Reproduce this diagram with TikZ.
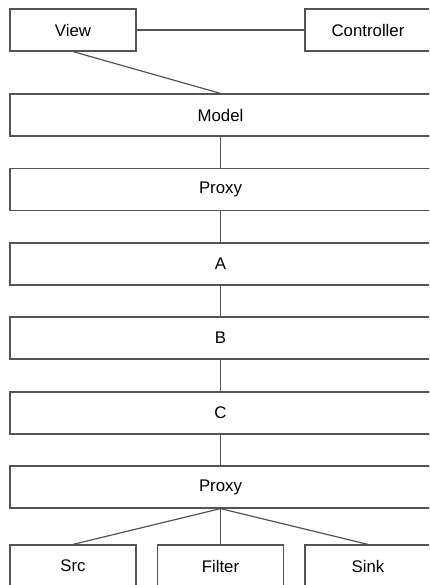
\documentclass[tikz,border=0pt]{standalone}
\usepackage{fontspec}
\setmainfont{Liberation Sans}
\usepackage{tikz}
\definecolor{edge1}{rgb}{0.33,0.33,0.33}

\begin{document}
\begin{tikzpicture}[x=0.75pt,y=-0.75pt,
  box/.style={draw=edge1, line width=0.9pt, fill=white, minimum height=31.5pt,
    inner sep=0pt, font=\fontsize{12.6}{15}\selectfont},
  small/.style={box, minimum width=94.5pt},
  wide/.style={box, minimum width=315.75pt},
  link/.style={draw=edge1, line width=0.9pt}]
\useasboundingbox (0,0) rectangle (429,585);
\clip (0,0) rectangle (429,585);
% top row
\node[small] (view) at (73,30) {View};
\node[small] (ctrl) at (368,30) {Controller};
% layer stack
\node[wide] (model) at (220.5,115) {Model};
\node[wide] (proxy1) at (220.5,189.5) {Proxy};
\node[wide] (a) at (220.5,264) {A};
\node[wide] (b) at (220.5,338) {B};
\node[wide] (c) at (220.5,413) {C};
\node[wide] (proxy2) at (220.5,487) {Proxy};
% bottom row
\node[small] (src) at (73,566) {Src};
\node[small] (filter) at (220.5,566) {Filter};
\node[small] (sink) at (368,566) {Sink};
\draw[link] (view.east) -- (ctrl.west);
\draw[link] (view.south) -- (model.north);
\draw[link] (model) -- (proxy1);
\draw[link] (proxy1) -- (a);
\draw[link] (a) -- (b);
\draw[link] (b) -- (c);
\draw[link] (c) -- (proxy2);
\draw[link] (proxy2.south) -- (src.north);
\draw[link] (proxy2.south) -- (filter.north);
\draw[link] (proxy2.south) -- (sink.north);
\end{tikzpicture}
\end{document}
